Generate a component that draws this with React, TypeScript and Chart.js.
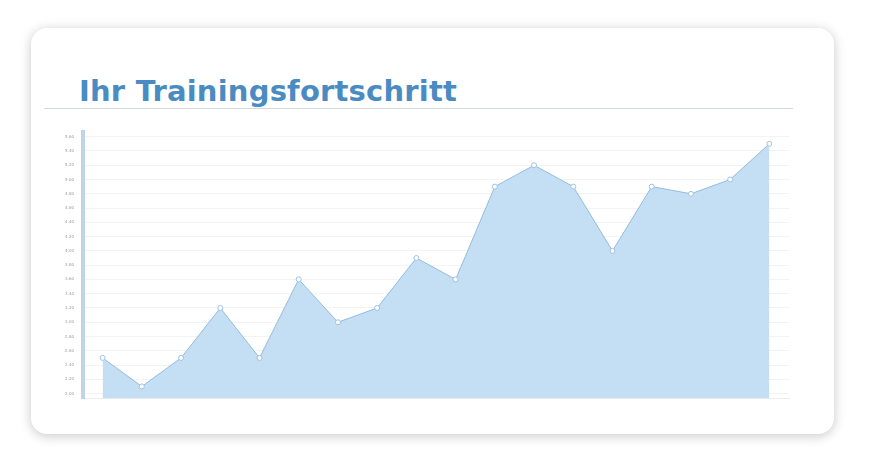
import React, { useEffect, useRef } from 'react';
import { Chart, registerables } from 'chart.js';

Chart.register(...registerables);

// Werte
const sessions = ['1', '2', '3', '4', '5', '6', '7', '8', '9', '10', '11', '12', '13', '14', '15', '16', '17', '18'];
const progress = [2.5, 2.1, 2.5, 3.2, 2.5, 3.6, 3.0, 3.2, 3.9, 3.6, 4.9, 5.2, 4.9, 4.0, 4.9, 4.8, 5.0, 5.5];
const yTicks = [2.0, 2.2, 2.4, 2.6, 2.8, 3.0, 3.2, 3.4, 3.6, 3.8, 4.0, 4.2, 4.4, 4.6, 4.8, 5.0, 5.2, 5.4, 5.6];
const yMin = 1.93;
const yMax = 5.66;

const ProgressChart: React.FC = () => {
  const chartRef = useRef<HTMLCanvasElement>(null);
  const chartInstance = useRef<Chart | null>(null);

  useEffect(() => {
    if (!chartRef.current) return;
    const ctx = chartRef.current.getContext('2d');
    if (!ctx) return;

    if (chartInstance.current) {
      chartInstance.current.destroy();
    }

    chartInstance.current = new Chart(ctx, {
      type: 'line',
      data: {
        labels: sessions,
        datasets: [{
          label: 'Fortschritt',
          data: progress,
          borderColor: '#92bbe0',
          borderWidth: 1,
          backgroundColor: 'rgba(196, 223, 243, 1)',
          fill: 'start',
          tension: 0,
          pointRadius: 2.5,
          pointBackgroundColor: '#ffffff',
          pointBorderColor: '#9cc2e4',
          pointBorderWidth: 1,
        }]
      },
      options: {
        animation: false,
        responsive: false,
        maintainAspectRatio: false,
        layout: { padding: { top: 0, right: 0, bottom: 0, left: 0 } },
        plugins: {
          legend: { display: false },
          tooltip: { enabled: false },
        },
        scales: {
          x: {
            offset: true,
            ticks: { display: false },
            grid: { display: false },
            border: { color: '#ececec', width: 1 },
            afterFit: (scale: any) => { scale.height = 0; },
          },
          y: {
            min: yMin,
            max: yMax,
            afterBuildTicks: (scale: any) => {
              scale.ticks = yTicks.map((v) => ({ value: v }));
            },
            afterFit: (scale: any) => { scale.width = 40; },
            grid: {
              color: '#f3f3f3',
              drawTicks: false,
            },
            border: { color: '#c0d3e7', width: 4 },
            ticks: {
              color: '#9a9a9a',
              font: { size: 4, family: 'DejaVu Sans' },
              padding: 9,
              callback: (v: any) => Number(v).toFixed(2),
            },
          }
        }
      }
    });

    return () => {
      if (chartInstance.current) {
        chartInstance.current.destroy();
        chartInstance.current = null;
      }
    };
  }, []);

  return <canvas ref={chartRef} width={751} height={289} style={{ width: 751, height: 289, display: 'block' }} />;
};

export default function App() {
  return (
    <div style={{ position: 'fixed', left: 0, top: 0, width: 869, height: 467, background: '#ffffff', overflow: 'hidden' }}>
      <div
        style={{
          position: 'absolute',
          left: 31,
          top: 28,
          width: 803,
          height: 406,
          background: '#ffffff',
          borderRadius: 16,
          boxShadow: '0 2px 12px rgba(0,0,0,0.22)',
        }}
      />
      <div
        style={{
          position: 'absolute',
          left: 79,
          top: 73,
          fontFamily: '"DejaVu Sans", Verdana, sans-serif',
          fontWeight: 'bold',
          fontSize: 29,
          letterSpacing: 0.2,
          color: '#4a8cc2',
          lineHeight: '36px',
          whiteSpace: 'nowrap',
        }}
      >
        Ihr Trainingsfortschritt
      </div>
      <div style={{ position: 'absolute', left: 44, top: 108, width: 749, height: 1, background: '#d2d8de' }} />
      <div style={{ position: 'absolute', left: 43, top: 121 }}>
        <ProgressChart />
      </div>
    </div>
  );
}
